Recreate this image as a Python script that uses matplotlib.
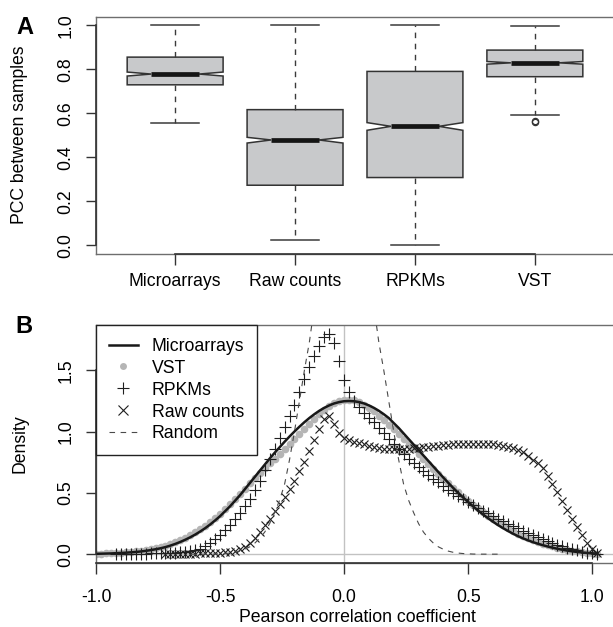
import matplotlib
matplotlib.use('Agg')
import matplotlib.pyplot as plt
import matplotlib.transforms as mtransforms
from matplotlib.lines import Line2D

plt.rcParams['font.family'] = ['Liberation Sans', 'DejaVu Sans']

FS = 12.7
nan = float('nan')

# ---- panel A: box statistics
groups = ['Microarrays', 'Raw counts', 'RPKMs', 'VST']
whislo = [0.556, 0.023, 0.000, 0.591]
q1 = [0.730, 0.273, 0.308, 0.767]
med = [0.779, 0.479, 0.541, 0.830]
q3 = [0.856, 0.617, 0.791, 0.888]
whishi = [1.000, 1.000, 1.000, 0.998]
ci_lo = [0.770, 0.465, 0.523, 0.824]
ci_hi = [0.788, 0.491, 0.558, 0.836]
outliers = [[], [], [], [0.559, 0.565]]

# ---- panel B: density curves, evaluated on a 0.02 grid
dens_x = [-1.00, -0.98, -0.96, -0.94, -0.92, -0.90, -0.88, -0.86, -0.84, -0.82,
          -0.80, -0.78, -0.76, -0.74, -0.72, -0.70, -0.68, -0.66, -0.64, -0.62,
          -0.60, -0.58, -0.56, -0.54, -0.52, -0.50, -0.48, -0.46, -0.44, -0.42,
          -0.40, -0.38, -0.36, -0.34, -0.32, -0.30, -0.28, -0.26, -0.24, -0.22,
          -0.20, -0.18, -0.16, -0.14, -0.12, -0.10, -0.08, -0.06, -0.04, -0.02,
          0.00, 0.02, 0.04, 0.06, 0.08, 0.10, 0.12, 0.14, 0.16, 0.18,
          0.20, 0.22, 0.24, 0.26, 0.28, 0.30, 0.32, 0.34, 0.36, 0.38,
          0.40, 0.42, 0.44, 0.46, 0.48, 0.50, 0.52, 0.54, 0.56, 0.58,
          0.60, 0.62, 0.64, 0.66, 0.68, 0.70, 0.72, 0.74, 0.76, 0.78,
          0.80, 0.82, 0.84, 0.86, 0.88, 0.90, 0.92, 0.94, 0.96, 0.98,
          1.00, 1.02]

microarrays_y = [0.003, 0.004, 0.005, 0.006, 0.008, 0.010, 0.012, 0.015, 0.018, 0.022,
                 0.027, 0.033, 0.040, 0.048, 0.058, 0.070, 0.084, 0.100, 0.118, 0.138,
                 0.160, 0.185, 0.212, 0.242, 0.275, 0.310, 0.350, 0.390, 0.435, 0.480,
                 0.530, 0.580, 0.630, 0.680, 0.730, 0.780, 0.827, 0.872, 0.917, 0.960,
                 1.001, 1.040, 1.077, 1.111, 1.142, 1.170, 1.194, 1.214, 1.230, 1.241,
                 1.248, 1.250, 1.248, 1.241, 1.230, 1.214, 1.194, 1.170, 1.142, 1.111,
                 1.070, 1.030, 0.985, 0.940, 0.895, 0.850, 0.805, 0.760, 0.715, 0.670,
                 0.625, 0.582, 0.540, 0.500, 0.462, 0.426, 0.390, 0.356, 0.324, 0.294,
                 0.265, 0.238, 0.213, 0.190, 0.168, 0.148, 0.130, 0.114, 0.099, 0.086,
                 0.074, 0.063, 0.053, 0.044, 0.036, 0.029, 0.023, 0.018, 0.014, 0.010,
                 0.007, 0.004]

vst_y = [0.004, 0.005, 0.006, 0.008, 0.010, 0.012, 0.015, 0.018, 0.022, 0.027,
         0.033, 0.040, 0.048, 0.058, 0.069, 0.082, 0.097, 0.114, 0.133, 0.155,
         0.178, 0.204, 0.232, 0.262, 0.295, 0.330, 0.368, 0.407, 0.448, 0.490,
         0.533, 0.577, 0.620, 0.660, 0.700, 0.740, 0.780, 0.820, 0.860, 0.900,
         0.940, 0.980, 1.020, 1.060, 1.100, 1.140, 1.175, 1.205, 1.230, 1.250,
         1.262, 1.262, 1.255, 1.240, 1.220, 1.195, 1.165, 1.130, 1.095, 1.058,
         1.020, 0.980, 0.940, 0.898, 0.856, 0.815, 0.774, 0.733, 0.693, 0.654,
         0.616, 0.578, 0.541, 0.505, 0.470, 0.437, 0.405, 0.374, 0.344, 0.315,
         0.287, 0.260, 0.234, 0.210, 0.188, 0.167, 0.148, 0.130, 0.114, 0.100,
         0.087, 0.075, 0.064, 0.054, 0.045, 0.037, 0.029, 0.022, 0.016, 0.011,
         0.006, 0.003]

rpkms_y = [nan, nan, nan, nan, 0.002, 0.003, 0.003, 0.004, 0.004, 0.005,
           0.005, 0.006, 0.007, 0.008, 0.009, 0.010, 0.012, 0.014, 0.017, 0.022,
           0.030, 0.045, 0.065, 0.090, 0.120, 0.155, 0.195, 0.240, 0.285, 0.335,
           0.390, 0.450, 0.520, 0.600, 0.690, 0.780, 0.860, 0.950, 1.040, 1.130,
           1.220, 1.320, 1.430, 1.530, 1.620, 1.700, 1.770, 1.800, 1.720, 1.580,
           1.420, 1.320, 1.250, 1.200, 1.155, 1.115, 1.075, 1.030, 0.985, 0.940,
           0.895, 0.855, 0.815, 0.780, 0.745, 0.710, 0.675, 0.645, 0.615, 0.585,
           0.555, 0.525, 0.500, 0.475, 0.450, 0.425, 0.400, 0.380, 0.355, 0.335,
           0.310, 0.290, 0.270, 0.250, 0.230, 0.210, 0.190, 0.172, 0.155, 0.138,
           0.122, 0.106, 0.092, 0.078, 0.064, 0.052, 0.040, 0.030, 0.020, 0.012,
           0.006, 0.002]

rawcounts_y = [nan, nan, nan, nan, nan, nan, nan, nan, nan, nan,
               nan, nan, nan, nan, 0.002, 0.002, 0.003, 0.003, 0.004, 0.004,
               0.005, 0.006, 0.007, 0.008, 0.010, 0.012, 0.015, 0.020, 0.028, 0.040,
               0.060, 0.090, 0.130, 0.180, 0.235, 0.290, 0.350, 0.410, 0.470, 0.535,
               0.600, 0.675, 0.755, 0.840, 0.930, 1.020, 1.100, 1.130, 1.060, 0.990,
               0.950, 0.930, 0.915, 0.905, 0.895, 0.885, 0.875, 0.868, 0.862, 0.858,
               0.856, 0.856, 0.858, 0.862, 0.866, 0.870, 0.874, 0.878, 0.882, 0.886,
               0.890, 0.893, 0.896, 0.898, 0.900, 0.902, 0.903, 0.903, 0.902, 0.900,
               0.896, 0.890, 0.883, 0.875, 0.865, 0.850, 0.830, 0.800, 0.770, 0.740,
               0.700, 0.640, 0.575, 0.505, 0.435, 0.360, 0.290, 0.220, 0.155, 0.095,
               0.045, 0.012]

random_y = [nan, nan, nan, nan, nan, nan, nan, nan, nan, nan,
            nan, nan, nan, nan, nan, nan, nan, nan, nan, 0.0,
            0.0, 0.0001, 0.0002, 0.0005, 0.001, 0.003, 0.005, 0.009, 0.015, 0.025,
            0.040, 0.060, 0.090, 0.130, 0.180, 0.250, 0.340, 0.440, 0.570, 0.770,
            1.000, 1.250, 1.500, 1.730, 2.020, 2.290, 2.550, 2.760, 2.930, 3.030,
            3.070, 3.030, 2.930, 2.760, 2.550, 2.290, 2.020, 1.730, 1.500, 1.250,
            1.000, 0.770, 0.570, 0.440, 0.340, 0.250, 0.180, 0.130, 0.090, 0.060,
            0.040, 0.025, 0.015, 0.009, 0.005, 0.003, 0.001, 0.0005, 0.0002, 0.0001,
            0.0, 0.0, nan, nan, nan, nan, nan, nan, nan, nan,
            nan, nan, nan, nan, nan, nan, nan, nan, nan, nan,
            nan, nan]

FRAME = '#6e6e6e'
AXISC = '#333333'

fig = plt.figure(figsize=(6.13, 6.27), dpi=100)
W, H = 613.0, 627.0

# ================= panel A =================
ax_a = fig.add_axes([96 / W, (H - 254) / H, (614 - 96) / W, (254 - 16.7) / H])
stats = []
for i in range(len(groups)):
    stats.append(dict(med=med[i], q1=q1[i], q3=q3[i], whislo=whislo[i],
                      whishi=whishi[i], cilo=ci_lo[i], cihi=ci_hi[i],
                      fliers=outliers[i], label=groups[i]))

ax_a.bxp(stats, positions=[1, 2, 3, 4], widths=0.8, shownotches=True,
         patch_artist=True, manage_ticks=False,
         boxprops=dict(facecolor='#c8c9cb', edgecolor='#333333', linewidth=1.1),
         medianprops=dict(color='#151515', linewidth=3.4, solid_capstyle='butt'),
         whiskerprops=dict(color='#3a3a3a', linewidth=1.0, linestyle=(0, (4, 4))),
         capprops=dict(color='#3a3a3a', linewidth=1.1),
         flierprops=dict(marker='o', markerfacecolor='none', markeredgecolor='#333333',
                         markersize=4.5, markeredgewidth=0.9))

ax_a.set_xlim(0.34, 4.66)
ax_a.set_ylim(-0.04, 1.04)
ax_a.set_xticks([1, 2, 3, 4])
ax_a.set_xticklabels(groups, fontsize=FS)
ax_a.set_yticks([0, 0.2, 0.4, 0.6, 0.8, 1.0])
ax_a.set_yticklabels(['0.0', '0.2', '0.4', '0.6', '0.8', '1.0'], fontsize=FS,
                     rotation=90, va='center')
ax_a.tick_params(axis='x', length=8, width=1.0, color=AXISC, pad=6)
ax_a.tick_params(axis='y', length=7.5, width=1.0, color=AXISC, pad=8)
for s in ax_a.spines.values():
    s.set_color(FRAME)
    s.set_linewidth(1.0)
# axis lines between the outer ticks (drawn darker, like R's axis())
tr = mtransforms.blended_transform_factory(ax_a.transData, ax_a.transAxes)
ax_a.plot([1, 4], [0, 0], transform=tr, color=AXISC, lw=1.2, clip_on=False, zorder=5)
tr = mtransforms.blended_transform_factory(ax_a.transAxes, ax_a.transData)
ax_a.plot([0, 0], [0, 1], transform=tr, color=AXISC, lw=1.2, clip_on=False, zorder=5)

fig.text(20 / W, 1 - 135 / H, 'PCC between samples', rotation=90,
         ha='center', va='center', fontsize=FS)
fig.text(25 / W, 1 - 27.5 / H, 'A', fontsize=17, fontweight='bold',
         ha='center', va='center')

# ================= panel B =================
ax_b = fig.add_axes([96 / W, (H - 563) / H, (617 - 96) / W, (563 - 325) / H])
ax_b.axvline(0, color='#c2c2c2', lw=1.0, zorder=1)
ax_b.axhline(0, color='#c2c2c2', lw=1.0, zorder=1)

ax_b.plot(dens_x, vst_y, ls='none', marker='o', ms=5.5, mfc='#b5b5b5', mec='none', zorder=2)
ax_b.plot(dens_x, microarrays_y, color='#181818', lw=1.8, zorder=3)
ax_b.plot(dens_x, rpkms_y, ls='none', marker='+', ms=8, mec='#1f1f1f', mew=0.8, zorder=4)
ax_b.plot(dens_x, rawcounts_y, ls='none', marker='x', ms=6.3, mec='#1f1f1f', mew=0.8, zorder=4)
ax_b.plot(dens_x, random_y, color='#4a4a4a', lw=0.8, ls=(0, (5, 5)), zorder=5)

ax_b.set_xlim(-1.0, 1.1)
ax_b.set_ylim(-0.072, 1.87)
ax_b.set_xticks([-1.0, -0.5, 0.0, 0.5, 1.0])
ax_b.set_xticklabels(['-1.0', '-0.5', '0.0', '0.5', '1.0'], fontsize=FS)
ax_b.set_yticks([0, 0.5, 1.0, 1.5])
ax_b.set_yticklabels(['0.0', '0.5', '1.0', '1.5'], fontsize=FS, rotation=90, va='center')
ax_b.tick_params(axis='x', length=8, width=1.0, color=AXISC, pad=10.5)
ax_b.tick_params(axis='y', length=7.5, width=1.0, color=AXISC, pad=8)
for s in ax_b.spines.values():
    s.set_color(FRAME)
    s.set_linewidth(1.0)
tr = mtransforms.blended_transform_factory(ax_b.transData, ax_b.transAxes)
ax_b.plot([-1.0, 1.0], [0, 0], transform=tr, color=AXISC, lw=1.2, clip_on=False, zorder=6)
tr = mtransforms.blended_transform_factory(ax_b.transAxes, ax_b.transData)
ax_b.plot([0, 0], [0, 1.5], transform=tr, color=AXISC, lw=1.2, clip_on=False, zorder=6)

handles = [Line2D([], [], color='#181818', lw=1.8),
           Line2D([], [], ls='none', marker='o', ms=5, mfc='#b5b5b5', mec='none'),
           Line2D([], [], ls='none', marker='+', ms=9, mec='#1f1f1f', mew=0.8),
           Line2D([], [], ls='none', marker='x', ms=7, mec='#1f1f1f', mew=0.8),
           Line2D([], [], color='#4a4a4a', lw=0.8, ls=(0, (5, 5)))]
labels = ['Microarrays', 'VST', 'RPKMs', 'Raw counts', 'Random']
leg = ax_b.legend(handles, labels, loc='upper left', bbox_to_anchor=(0, 1),
                  borderaxespad=0, fancybox=False, framealpha=1, edgecolor='#222222',
                  fontsize=FS, handlelength=1.65, handletextpad=0.8,
                  labelspacing=0.28, borderpad=0.72)
leg.get_frame().set_linewidth(1.0)
leg.set_zorder(10)

fig.text(357 / W, 1 - 618 / H, 'Pearson correlation coefficient',
         ha='center', va='center', fontsize=FS)
fig.text(20 / W, 1 - 444 / H, 'Density', rotation=90,
         ha='center', va='center', fontsize=FS)
fig.text(24 / W, 1 - 327 / H, 'B', fontsize=17, fontweight='bold',
         ha='center', va='center')

fig.savefig('out.png', dpi=100)
